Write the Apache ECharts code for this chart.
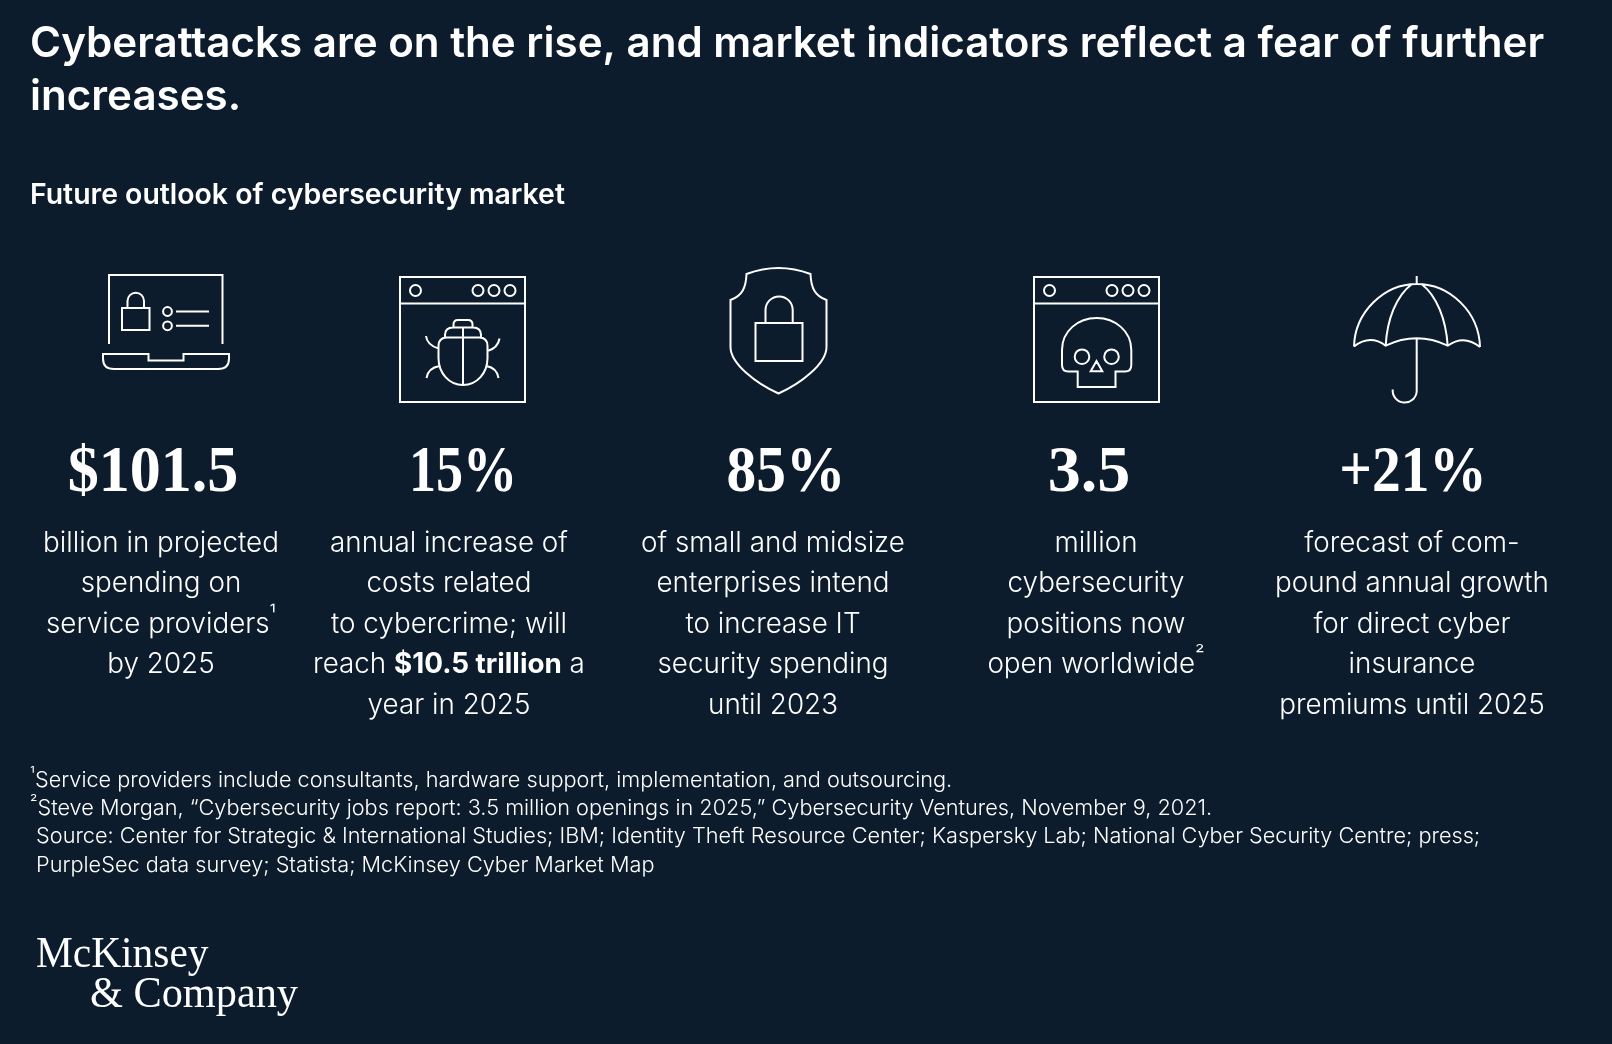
<!DOCTYPE html>
<html>
<head>
<meta charset="utf-8">
<style>
  html, body { margin: 0; padding: 0; background: #0c1c2d; }
  #chart { width: 1612px; height: 1044px; }
</style>
<script src="https://cdn.jsdelivr.net/npm/echarts@6/dist/echarts.min.js"></script>
</head>
<body>
<div id="chart"></div>
<script>
var headline = 'Cyberattacks are on the rise, and market indicators reflect a fear of further\nincreases.';
var subhead = 'Future outlook of cybersecurity market';
var statFigures = ['$101.5', '15%', '85%', '3.5', '+21%'];
var statCaptions = [
  'billion in projected\nspending on\nservice providers{s|¹}\nby 2025',
  'annual increase of\ncosts related\nto cybercrime; will\nreach {b|$10.5 trillion} a\nyear in 2025',
  'of small and midsize\nenterprises intend\nto increase IT\nsecurity spending\nuntil 2023',
  'million\ncybersecurity\npositions now\nopen worldwide{s|²}',
  'forecast of com-\npound annual growth\nfor direct cyber\ninsurance\npremiums until 2025'
];
var footnotes = [
  '{s|¹}Service providers include consultants, hardware support, implementation, and outsourcing.',
  '{s|²}Steve Morgan, “Cybersecurity jobs report: 3.5 million openings in 2025,” Cybersecurity Ventures, November 9, 2021.',
  ' Source: Center for Strategic & International Studies; IBM; Identity Theft Resource Center; Kaspersky Lab; National Cyber Security Centre; press;',
  ' PurpleSec data survey; Statista; McKinsey Cyber Market Map'
];

var bg = '#0c1c2d';
var sans = 'Inter, Roboto, sans-serif';
var serif = '"Liberation Serif", serif';
var figureX = [153, 463, 786, 1089, 1413];
var figureScale = [0.94, 0.82, 0.9, 1, 0.87];
var captionX = [161, 449, 773, 1096, 1412];
var footnoteY = [780, 808.5, 836.5, 865];

// browser window frame, used by the bug and the skull icon
function windowFrame(x) {
  return 'M' + x + ' 277H' + (x + 125) + 'V402H' + x + 'ZM' + x + ' 303.5H' + (x + 125);
}
function circle(cx, cy, r) {
  return 'M' + (cx - r) + ' ' + cy + 'A' + r + ' ' + r + ' 0 1 1 ' + (cx + r) + ' ' + cy +
    'A' + r + ' ' + r + ' 0 1 1 ' + (cx - r) + ' ' + cy + 'Z';
}
function windowDots(x) {
  return circle(x + 15.5, 290.5, 5.5) + circle(x + 78, 290.5, 5.5) +
    circle(x + 94, 290.5, 5.5) + circle(x + 110, 290.5, 5.5);
}

var iconPaths = [
  // laptop
  'M109 344V275H222.5V344' +
  'M103 354H148.5V360.5H183.5V354H229V358.5Q229 369 218 369H114Q103 369 103 358.5Z' +
  'M122 308H149.5V330H122ZM127.5 308V301A8.2 8.2 0 0 1 144 301V308' +
  circle(167.5, 311.5, 4.4) + circle(167.5, 325.8, 4.4) +
  'M176 311.5H209M176 325.8H209',
  // bug window
  windowFrame(400) + windowDots(400) +
  'M446 337.5H480M438.5 346Q438.5 337.5 447 337.5M479 337.5Q487.5 337.5 487.5 346' +
  'M438.5 346V358C438.5 373 449 385 463 385C477 385 487.5 373 487.5 358V346' +
  'M445 337.5V335Q445 327.5 453 327.5H473Q481 327.5 481 335V337.5' +
  'M453.5 327.5V324.5Q453.5 320 458 320H468Q472.5 320 472.5 324.5V327.5' +
  'M463 327.5V385' +
  'M426 336Q427 345 438.5 348.5M499.5 338.5Q498 348 487.5 351' +
  'M426.5 378Q428 368 439.5 366M498.5 378Q497 368 486.5 366',
  // shield
  'M746.5 274Q778.5 262 810.5 274C811 288 815 296 826.5 300V347C826.5 364 800 384 778.5 393.5' +
  'C757 384 730.5 364 730.5 347V300C742 296 746 288 746.5 274Z' +
  'M755.5 323H802.5V361H755.5ZM765.5 323V310A13.6 13.6 0 0 1 792.7 310V323',
  // skull window
  windowFrame(1034) + windowDots(1034) +
  'M1062 365V350C1062 331 1078 318 1096.7 318C1115 318 1131.3 331 1131.3 350V365' +
  'Q1131.3 371.5 1125 371.5H1115.5V387H1077.7V371.5H1068.5Q1062 371.5 1062 365Z' +
  circle(1082, 356.7, 7.3) + circle(1111.5, 356.7, 7.3) +
  'M1096.5 361L1102.3 371.3H1090.7Z',
  // umbrella
  'M1416.7 276V284M1354 346.5C1355 312 1384 284 1416.7 284C1450 284 1479 312 1480 347' +
  'M1354 346.5Q1370 334 1385.7 345.7Q1416.7 331 1447.7 345.7Q1464 334 1480 347' +
  'M1412 284C1396 296 1387 320 1385.7 345.7M1421.5 284C1437 296 1446 320 1447.7 345.7' +
  'M1416.7 338.5V391.5A12 12 0 0 1 1392.7 389.5'
];

function textEl(text, x, y, font, extra) {
  var style = {
    text: text, x: x, y: y, font: font, fill: '#ffffff',
    align: 'left', verticalAlign: 'middle', textAlign: 'left', textVerticalAlign: 'middle'
  };
  for (var k in extra) style[k] = extra[k];
  return { type: 'text', style: style, silent: true };
}

var elements = [];
elements.push(textEl(subhead, 30, 195, '600 28.4px ' + sans));

statFigures.forEach(function (f, i) {
  var el = textEl(f, figureX[i], 474, 'bold 66px ' + serif, {
    align: 'center', textAlign: 'center'
  });
  el.scaleX = figureScale[i];
  el.originX = figureX[i];
  elements.push(el);
});

statCaptions.forEach(function (c, i) {
  elements.push(textEl(c, captionX[i], 523.5, '300 27.8px ' + sans, {
    align: 'center', textAlign: 'center',
    verticalAlign: 'top', textVerticalAlign: 'top',
    lineHeight: 40.4,
    rich: {
      b: { font: '700 27.8px ' + sans, fill: '#ffffff', lineHeight: 40.4 },
      s: { font: '300 22px ' + sans, fill: '#ffffff', lineHeight: 39, verticalAlign: 'top' }
    }
  }));
});

footnotes.forEach(function (line, i) {
  elements.push(textEl(line, 30, footnoteY[i], '300 21.7px ' + sans, {
    lineHeight: 28,
    rich: { s: { font: '300 17px ' + sans, fill: '#ffffff', lineHeight: 27, verticalAlign: 'top' } }
  }));
});

var logo = [
  textEl('McKinsey', 36, 955, '45px ' + serif),
  textEl('& Company', 90, 995, '45px ' + serif)
];
logo.forEach(function (el, i) {
  el.scaleX = i === 0 ? 0.92 : 0.94;
  el.originX = el.style.x;
  elements.push(el);
});

var myChart = echarts.init(document.getElementById('chart'), null, { renderer: 'canvas' });
var option = {
  backgroundColor: bg,
  animation: false,
  title: {
    text: headline,
    left: 30,
    top: 18,
    padding: 0,
    textStyle: {
      color: '#ffffff',
      fontFamily: sans,
      fontSize: 42.1,
      fontWeight: 600,
      lineHeight: 53
    }
  },
  graphic: { elements: elements },
  series: [{
    type: 'custom',
    coordinateSystem: 'none',
    silent: true,
    data: iconPaths.map(function (d, i) { return i; }),
    renderItem: function (params) {
      return {
        type: 'path',
        shape: { pathData: iconPaths[params.dataIndex] },
        style: { fill: 'none', stroke: '#ffffff', lineWidth: 2 }
      };
    }
  }]
};
myChart.setOption(option);
</script>
</body>
</html>
